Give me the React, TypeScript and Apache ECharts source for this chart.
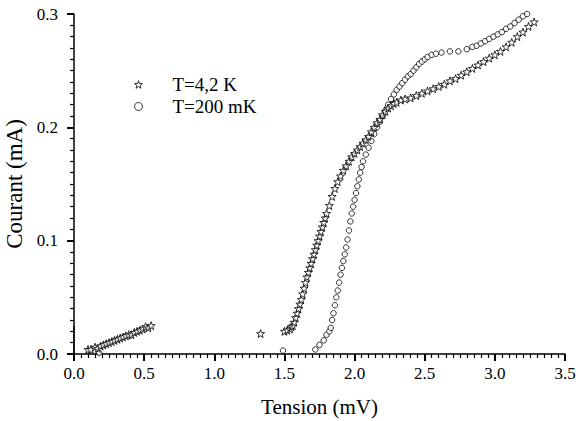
import React, { useEffect, useRef } from "react";
import * as echarts from "echarts";

const FONT = "Liberation Serif, Times New Roman, DejaVu Serif, serif";

const seriesNames = ["T=4,2 K", "T=200 mK"];

const xTicks = [0, 0.5, 1.0, 1.5, 2.0, 2.5, 3.0, 3.5];
const yTicks = [0, 0.1, 0.2, 0.3];

// T=4,2 K (stars): voltage (mV), current (mA)
const starV = [
  0.10, 0.12, 0.15, 0.17, 0.19, 0.21, 0.23, 0.25, 0.27, 0.29, 0.31, 0.33, 0.35, 0.37, 0.39, 0.41, 0.43, 0.45, 0.47, 0.49, 0.51, 0.53, 0.55,
  1.33,
  1.50, 1.52, 1.54, 1.55, 1.56, 1.57, 1.58, 1.59, 1.60, 1.61, 1.62, 1.63, 1.64, 1.65, 1.66, 1.67, 1.68, 1.69, 1.70,
  1.71, 1.72, 1.73, 1.74, 1.75, 1.76, 1.77, 1.78, 1.79, 1.80, 1.82, 1.84, 1.86, 1.88, 1.90, 1.92, 1.94, 1.96, 1.98,
  2.00, 2.02, 2.04, 2.06, 2.08, 2.10, 2.12, 2.14, 2.16, 2.18, 2.20, 2.22, 2.24, 2.26, 2.28, 2.30, 2.33, 2.36, 2.40,
  2.44, 2.48, 2.52, 2.56, 2.60, 2.64, 2.68, 2.72, 2.76, 2.80, 2.84, 2.88, 2.92, 2.96, 3.00, 3.04, 3.08, 3.12, 3.16,
  3.20, 3.24, 3.28,
];
const starI = [
  0.004, 0.004, 0.006, 0.005, 0.007, 0.008, 0.009, 0.010, 0.011, 0.012, 0.013, 0.014, 0.015, 0.016, 0.017, 0.017, 0.019, 0.020, 0.021, 0.022, 0.024, 0.023, 0.025,
  0.018,
  0.020, 0.021, 0.022, 0.024, 0.025, 0.028, 0.032, 0.036, 0.040, 0.044, 0.048, 0.053, 0.058, 0.063, 0.068, 0.072, 0.076, 0.080, 0.084,
  0.088, 0.092, 0.096, 0.100, 0.104, 0.108, 0.112, 0.116, 0.120, 0.124, 0.131, 0.139, 0.146, 0.152, 0.157, 0.162, 0.166, 0.170, 0.174,
  0.177, 0.180, 0.183, 0.186, 0.189, 0.192, 0.196, 0.200, 0.204, 0.207, 0.211, 0.214, 0.217, 0.219, 0.221, 0.222, 0.224, 0.225, 0.226,
  0.228, 0.230, 0.232, 0.234, 0.236, 0.238, 0.241, 0.243, 0.246, 0.249, 0.252, 0.255, 0.258, 0.261, 0.264, 0.267, 0.271, 0.275, 0.280,
  0.284, 0.289, 0.293,
];

// T=200 mK (circles)
const circV = [
  0.18, 1.49, 1.72, 1.75, 1.78, 1.80, 1.82, 1.83, 1.84, 1.85, 1.86, 1.87, 1.88, 1.89, 1.90, 1.91, 1.92, 1.93, 1.94, 1.95,
  1.96, 1.97, 1.98, 1.99, 2.00, 2.01, 2.02, 2.03, 2.04, 2.05, 2.06, 2.08, 2.10, 2.12, 2.14, 2.16, 2.18, 2.20, 2.22, 2.24,
  2.26, 2.28, 2.30, 2.32, 2.34, 2.36, 2.38, 2.40, 2.42, 2.44, 2.46, 2.48, 2.50, 2.52, 2.55, 2.58, 2.62, 2.68, 2.74, 2.80,
  2.84, 2.87, 2.90, 2.93, 2.96, 2.99, 3.02, 3.05, 3.08, 3.11, 3.14, 3.17, 3.20, 3.23, 3.25,
];
const circI = [
  0.001, 0.003, 0.004, 0.008, 0.012, 0.017, 0.020, 0.023, 0.030, 0.036, 0.043, 0.050, 0.056, 0.063, 0.070, 0.076, 0.082, 0.088, 0.094, 0.101,
  0.109, 0.117, 0.124, 0.130, 0.136, 0.142, 0.148, 0.154, 0.160, 0.165, 0.170, 0.176, 0.182, 0.188, 0.194, 0.200, 0.205, 0.210, 0.215, 0.220,
  0.225, 0.229, 0.233, 0.236, 0.239, 0.242, 0.245, 0.247, 0.250, 0.253, 0.256, 0.258, 0.260, 0.262, 0.264, 0.265, 0.266, 0.267, 0.267, 0.269,
  0.271, 0.272, 0.274, 0.276, 0.278, 0.280, 0.282, 0.284, 0.287, 0.289, 0.292, 0.295, 0.298, 0.300, 0.302,
];

// trace along V = 0
const zeroV = [0, 0, 0, 0, 0, 0, 0, 0, 0];
const zeroI = [0.0, 0.003, 0.006, 0.009, 0.012, 0.015, 0.018, 0.021, 0.023];

const STAR =
  "path://M0,-10L2.35,-3.24L9.51,-3.09L3.8,1.24L5.88,8.09L0,4L-5.88,8.09L-3.8,1.24L-9.51,-3.09L-2.35,-3.24Z";

const zip = (a: number[], b: number[]) => a.map((v, i) => [v, b[i]]);

export default function App() {
  const ref = useRef<HTMLDivElement>(null);
  useEffect(() => {
    if (!ref.current) return;
    const chart = echarts.init(ref.current, undefined, { renderer: "svg" });
    chart.setOption({
      animation: false,
      backgroundColor: "#fff",
      textStyle: { fontFamily: FONT, color: "#000" },
      grid: { left: 74, right: 13, top: 14, bottom: 67, outerBoundsMode: "none" },
      legend: {
        left: 129,
        top: 70,
        orient: "vertical",
        itemWidth: 8,
        itemHeight: 8,
        itemGap: 3,
        selectedMode: false,
        itemStyle: { color: "#fff", borderColor: "#000", borderWidth: 1 },
        data: [
          { name: seriesNames[0], icon: STAR },
          { name: seriesNames[1], icon: "circle" },
        ],
        textStyle: { fontFamily: FONT, fontSize: 19, color: "#000", padding: [0, 0, 0, 25] },
      },
      xAxis: {
        type: "value",
        min: xTicks[0],
        max: xTicks[xTicks.length - 1],
        interval: 0.5,
        name: "Tension (mV)",
        nameLocation: "middle",
        nameGap: 42,
        nameTextStyle: { fontFamily: FONT, fontSize: 21, color: "#000" },
        axisLine: { show: true, lineStyle: { color: "#000", width: 1.5 } },
        axisTick: { show: true, length: 7, lineStyle: { color: "#000", width: 2 } },
        minorTick: { show: true, splitNumber: 10, length: 4, lineStyle: { color: "#000", width: 1.2 } },
        splitLine: { show: false },
        axisLabel: {
          margin: 11,
          fontSize: 17,
          color: "#000",
          formatter: (v: number) => v.toFixed(1),
        },
      },
      yAxis: {
        type: "value",
        min: yTicks[0],
        max: yTicks[yTicks.length - 1],
        interval: 0.1,
        name: "Courant (mA)",
        nameLocation: "middle",
        nameGap: 44,
        nameTextStyle: { fontFamily: FONT, fontSize: 23, color: "#000" },
        axisLine: { show: true, lineStyle: { color: "#000", width: 1.5 } },
        axisTick: { show: true, length: 7, lineStyle: { color: "#000", width: 2 } },
        minorTick: { show: true, splitNumber: 10, length: 4, lineStyle: { color: "#000", width: 1.2 } },
        splitLine: { show: false },
        axisLabel: {
          margin: 16,
          fontSize: 17,
          color: "#000",
          formatter: (v: number) => v.toFixed(1),
        },
      },
      series: [
        {
          name: seriesNames[0],
          type: "scatter",
          symbol: STAR,
          symbolSize: 8,
          itemStyle: { color: "#fff", borderColor: "#000", borderWidth: 1 },
          data: zip(starV, starI),
          z: 3,
        },
        {
          name: seriesNames[1],
          type: "scatter",
          symbol: "circle",
          symbolSize: 5.5,
          itemStyle: { color: "#fff", borderColor: "#000", borderWidth: 1 },
          data: zip(circV, circI),
          z: 2,
        },
        {
          name: "zero",
          type: "scatter",
          symbol: "rect",
          symbolSize: [1.5, 4],
          itemStyle: { color: "#000" },
          data: zip(zeroV, zeroI),
          z: 4,
        },
      ],
    });
    return () => chart.dispose();
  }, []);
  return (
    <div
      ref={ref}
      style={{ position: "absolute", left: 0, top: 0, width: 578, height: 421 }}
    />
  );
}
